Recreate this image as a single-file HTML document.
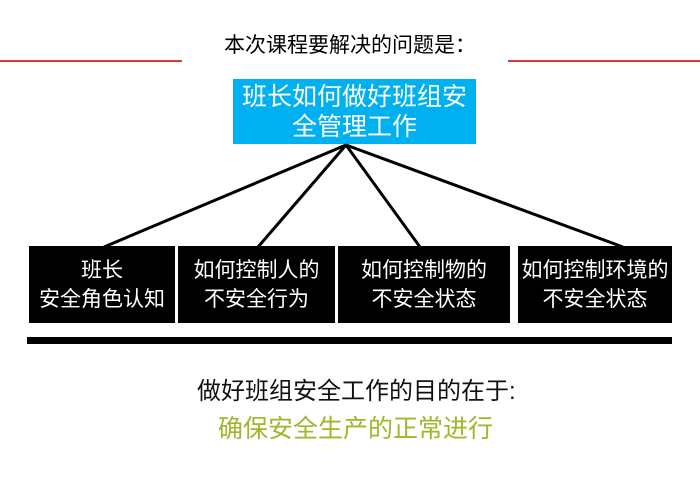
<!DOCTYPE html>
<html><head><meta charset="utf-8"><style>
body{margin:0;width:700px;height:484px;background:#fff;position:relative;overflow:hidden;font-family:"Liberation Sans","Noto Sans CJK SC",sans-serif}
.a{position:absolute}
.box{position:absolute;background:#000;color:#fff;font-size:21px;line-height:29px;text-align:center;display:flex;align-items:center;justify-content:center;top:246px;height:77px;white-space:nowrap}
</style></head><body>
<div class="a" style="left:0;top:60px;width:182px;height:2px;background:#d9363e"></div>
<div class="a" style="left:508px;top:60px;width:192px;height:2px;background:#d9363e"></div>
<div class="a" style="left:0;width:700px;top:32px;text-align:center;font-size:21px;line-height:28px;color:#000">本次课程要解决的问题是：</div>
<div class="a" style="left:233px;top:79px;width:243px;height:65px;background:#00b0f0;color:#fff;font-size:25px;line-height:30px;text-align:center;padding-top:3px;box-sizing:border-box">班长如何做好班组安<br>全管理工作</div>
<svg class="a" style="left:0;top:0" width="700" height="484">
<g stroke="#000" stroke-width="3" fill="none">
<line x1="346" y1="145" x2="104" y2="247"/>
<line x1="346" y1="145" x2="258" y2="247"/>
<line x1="346" y1="145" x2="420" y2="247"/>
<line x1="346" y1="145" x2="623" y2="247"/>
</g>
<rect x="27" y="337" width="645" height="7" fill="#000"/>
</svg>
<div class="box" style="left:29px;width:146px">班长<br>安全角色认知</div>
<div class="box" style="left:178px;width:157px">如何控制人的<br>不安全行为</div>
<div class="box" style="left:338px;width:172px">如何控制物的<br>不安全状态</div>
<div class="box" style="left:518px;width:154px">如何控制环境的<br>不安全状态</div>
<div class="a" style="left:197px;top:377px;font-size:24px;line-height:30px;color:#111;white-space:nowrap">做好班组安全工作的目的在于:</div>
<div class="a" style="left:218px;top:413px;font-size:25px;line-height:32px;color:#a3b52a;white-space:nowrap">确保安全生产的正常进行</div>
</body></html>
